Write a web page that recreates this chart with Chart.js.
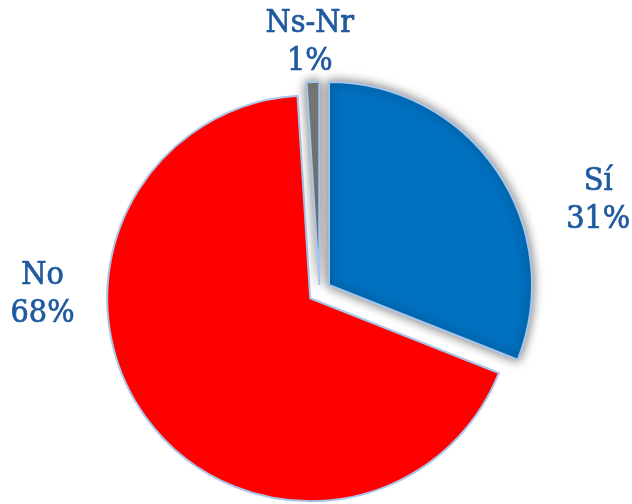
<!DOCTYPE html>
<html>
<head>
<meta charset="utf-8">
<script src="https://cdn.jsdelivr.net/npm/chart.js@4/dist/chart.umd.min.js"></script>
<style>
  html, body { margin: 0; padding: 0; background: #fff; }
  #wrap { width: 632px; height: 504px; }
</style>
</head>
<body>
<div id="wrap"><canvas id="pie" width="632" height="504"></canvas></div>
<script>
// answers and share of responses (%)
var categories = ["Sí", "No", "Ns-Nr"];
var values = [31, 68, 1];

var sliceColors = ["#0070C0", "#FF0000", "#808080"];

// pull each slice out from the centre, a la Excel "explosion"
var explodePlugin = {
  id: "explode",
  beforeDatasetDraw: function(chart, args, opts) {
    var ctx = chart.ctx;
    var meta = args.meta;
    meta.data.forEach(function(arc, i) {
      var mid = (arc.startAngle + arc.endAngle) / 2;
      var d = opts.distance[i] || 0;
      ctx.save();
      if (opts.shadow[i]) {
        ctx.shadowColor = "rgba(0,0,0,0.55)";
        ctx.shadowBlur = 11;
      }
      ctx.translate(Math.cos(mid) * d, Math.sin(mid) * d);
      arc.draw(ctx);
      ctx.restore();
    });
    return false;
  }
};

// category + percent labels outside the pie
var labelPlugin = {
  id: "outLabels",
  afterDatasetsDraw: function(chart, args, opts) {
    var ctx = chart.ctx;
    var meta = chart.getDatasetMeta(0);
    var total = values.reduce(function(s, v) { return s + v; }, 0);
    ctx.save();
    ctx.fillStyle = opts.color;
    ctx.strokeStyle = opts.color;
    ctx.lineWidth = 0.7;
    ctx.font = opts.size + "px " + opts.family;
    ctx.textAlign = "center";
    ctx.textBaseline = "alphabetic";
    meta.data.forEach(function(arc, i) {
      var a = (opts.angle[i] - 90) * Math.PI / 180;
      var r = arc.outerRadius + opts.gap[i];
      var x = arc.x + Math.cos(a) * r;
      var y = arc.y + Math.sin(a) * r;
      var pct = Math.round(values[i] / total * 100) + "%";
      var capShift = opts.size * 0.365;
      [categories[i], pct].forEach(function(txt, k) {
        var ty = y + (k === 0 ? -1 : 1) * opts.lineGap / 2 + capShift;
        ctx.fillText(txt, x, ty);
        ctx.strokeText(txt, x, ty);
      });
    });
    ctx.restore();
  }
};

new Chart(document.getElementById("pie"), {
  type: "pie",
  data: {
    labels: categories,
    datasets: [{
      data: values,
      backgroundColor: sliceColors,
      borderColor: "#a9c6ea",
      borderWidth: 2,
      radius: 203,
      clip: false
    }]
  },
  options: {
    responsive: false,
    animation: false,
    devicePixelRatio: 1,
    layout: { padding: { left: 7, right: 0, top: 79, bottom: 0 } },
    plugins: {
      legend: { display: false },
      tooltip: { enabled: false },
      explode: { distance: [11.5, 11.5, 6.5], shadow: [true, false, true] },
      outLabels: {
        color: "#1f5aa0",
        family: "'DejaVu Serif Condensed', 'DejaVu Serif', serif",
        size: 32,
        lineGap: 38,
        angle: [71.4, 270.1, 357.8],
        gap: [91, 74, 49]
      }
    }
  },
  plugins: [explodePlugin, labelPlugin]
});
</script>
</body>
</html>
